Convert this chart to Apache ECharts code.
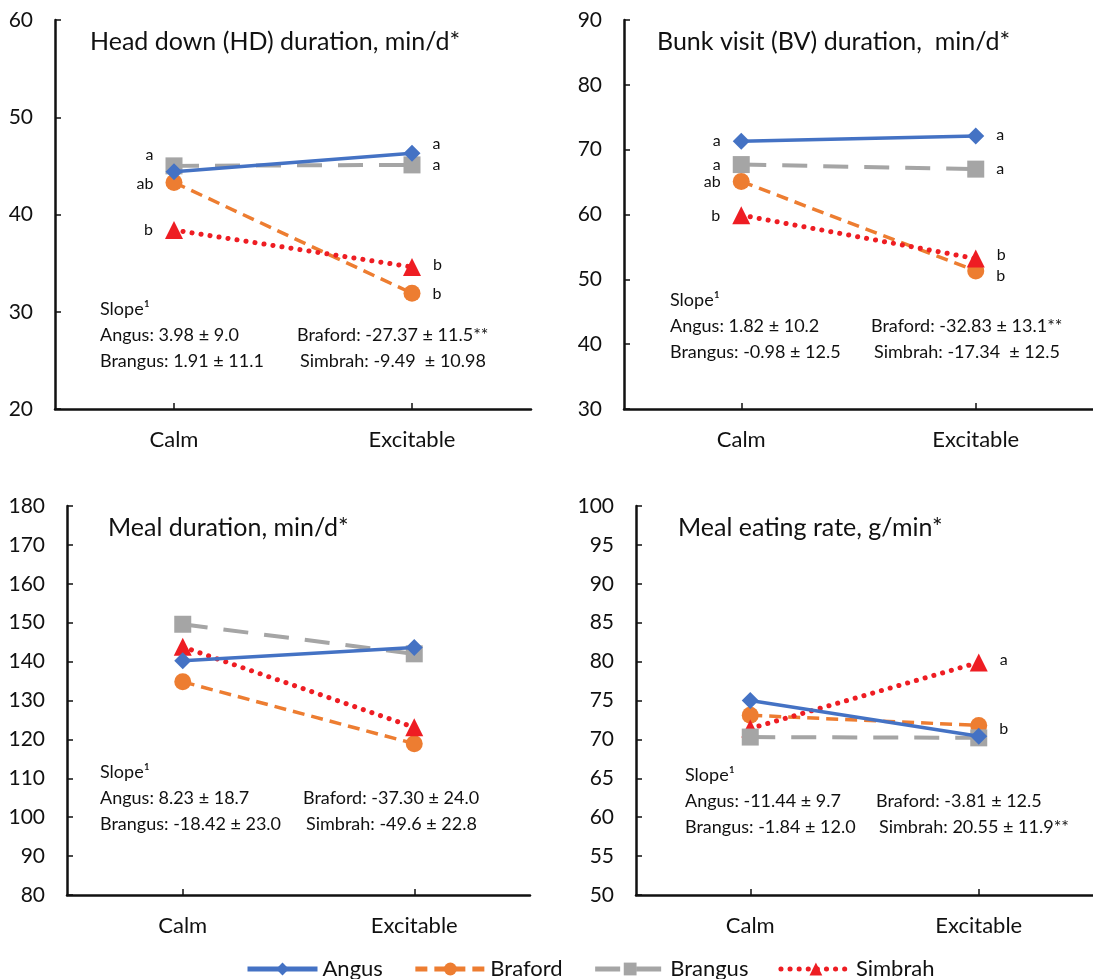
<!DOCTYPE html>
<html>
<head>
<meta charset="utf-8">
<script src="https://cdn.jsdelivr.net/npm/echarts@6/dist/echarts.min.js"></script>
<style>
  html, body { margin: 0; padding: 0; background: #fff; }
  #main { width: 1093px; height: 979px; }
</style>
</head>
<body>
<div id="main"></div>
<script>
// categories and breed names
var categories = ['Calm', 'Excitable'];
var breeds = ['Angus', 'Braford', 'Brangus', 'Simbrah'];

// Head down duration, min/d
var hdAngus = [44.4, 46.3];
var hdBraford = [43.3, 31.9];
var hdBrangus = [45.0, 45.1];
var hdSimbrah = [38.4, 34.6];

// Bunk visit duration, min/d
var bvAngus = [71.3, 72.1];
var bvBraford = [65.1, 51.3];
var bvBrangus = [67.7, 67.0];
var bvSimbrah = [59.9, 53.2];

// Meal duration, min/d
var mdAngus = [140.2, 143.6];
var mdBraford = [134.8, 118.9];
var mdBrangus = [149.6, 142.0];
var mdSimbrah = [143.8, 123.1];

// Meal eating rate, g/min
var erAngus = [75.0, 70.4];
var erBraford = [73.1, 71.8];
var erBrangus = [70.3, 70.2];
var erSimbrah = [71.4, 79.9];

// significance letters (Calm, Excitable)
var hdLetters = { Angus: ['', 'a'], Braford: ['ab', 'b'], Brangus: ['a', 'a'], Simbrah: ['b', 'b'] };
var bvLetters = { Angus: ['a', 'a'], Braford: ['ab', 'b'], Brangus: ['a', 'a'], Simbrah: ['b', 'b'] };
var mdLetters = { Angus: ['', ''], Braford: ['', ''], Brangus: ['', ''], Simbrah: ['', ''] };
var erLetters = { Angus: ['', ''], Braford: ['', 'b'], Brangus: ['', ''], Simbrah: ['', 'a'] };

// slope text lines
var hdSlope = ['Angus: 3.98 ± 9.0', 'Brangus: 1.91 ± 11.1', 'Braford: -27.37 ± 11.5**', 'Simbrah: -9.49  ± 10.98'];
var bvSlope = ['Angus: 1.82 ± 10.2', 'Brangus: -0.98 ± 12.5', 'Braford: -32.83 ± 13.1**', 'Simbrah: -17.34  ± 12.5'];
var mdSlope = ['Angus: 8.23 ± 18.7', 'Brangus: -18.42 ± 23.0', 'Braford: -37.30 ± 24.0', 'Simbrah: -49.6 ± 22.8'];
var erSlope = ['Angus: -11.44 ± 9.7', 'Brangus: -1.84 ± 12.0', 'Braford: -3.81 ± 12.5', 'Simbrah: 20.55 ± 11.9**'];

var titles = ['Head down (HD) duration, min/d*', 'Bunk visit (BV) duration,  min/d*', 'Meal duration, min/d*', 'Meal eating rate, g/min*'];

var FONT = 'Lato, "Open Sans", sans-serif';
var INK = '#111';

var styles = {
    Angus: { color: '#4472C4', symbol: 'diamond', size: 17, line: 'solid', width: 3.5 },
    Braford: { color: '#ED7D31', symbol: 'circle', size: 17, line: [12, 7], width: 3.5 },
    Brangus: { color: '#A5A5A5', symbol: 'rect', size: 17, line: [25, 16], width: 4 },
    Simbrah: { color: '#EE1D23', symbol: 'triangle', size: 18, line: [0.1, 9], width: 5 }
};

// label offsets per panel: [calm, excitable]
var labelOffsets = [
    { Angus: [[0, 0], [0, -9]], Braford: [[0, 1], [0, 1]], Brangus: [[0, -11], [0, 0]], Simbrah: [[0, 0], [0, -2]] },
    { Angus: [[0, 0], [0, -1]], Braford: [[0, 0], [0, 5]], Brangus: [[0, 0], [0, 0]], Simbrah: [[0, 1], [0, -4]] },
    { Angus: [[0, 0], [0, 0]], Braford: [[0, 0], [0, 0]], Brangus: [[0, 0], [0, 0]], Simbrah: [[0, 0], [0, 0]] },
    { Angus: [[0, 0], [0, 0]], Braford: [[0, 0], [0, 3]], Brangus: [[0, 0], [0, 0]], Simbrah: [[0, 0], [0, -3]] }
];

var panelData = [
    { Angus: hdAngus, Braford: hdBraford, Brangus: hdBrangus, Simbrah: hdSimbrah },
    { Angus: bvAngus, Braford: bvBraford, Brangus: bvBrangus, Simbrah: bvSimbrah },
    { Angus: mdAngus, Braford: mdBraford, Brangus: mdBrangus, Simbrah: mdSimbrah },
    { Angus: erAngus, Braford: erBraford, Brangus: erBrangus, Simbrah: erSimbrah }
];
var panelLetters = [hdLetters, bvLetters, mdLetters, erLetters];
var panelSlopes = [hdSlope, bvSlope, mdSlope, erSlope];

var grids = [
    { left: 55, top: 20, width: 476, height: 389 },
    { left: 624, top: 20, width: 476, height: 389 },
    { left: 67, top: 506, width: 463, height: 389 },
    { left: 636, top: 506, width: 463, height: 389 }
];
var yRanges = [
    { min: 20, max: 60, interval: 10 },
    { min: 30, max: 90, interval: 10 },
    { min: 80, max: 180, interval: 10 },
    { min: 50, max: 100, interval: 5 }
];

var xAxes = grids.map(function (g, i) {
    return {
        type: 'category', gridIndex: i, data: categories, boundaryGap: true,
        axisLine: { lineStyle: { color: INK, width: 2.5 } },
        axisTick: { show: true, inside: true, alignWithLabel: true, length: 6, lineStyle: { color: INK, width: 1.5 } },
        axisLabel: { fontSize: 22, color: INK, fontFamily: FONT, margin: 20 },
        splitLine: { show: false }
    };
});

var yAxes = yRanges.map(function (r, i) {
    return {
        type: 'value', gridIndex: i, min: r.min, max: r.max, interval: r.interval,
        axisLine: { show: true, lineStyle: { color: INK, width: 2.5 } },
        axisTick: { show: true, inside: true, length: 6, lineStyle: { color: INK, width: 1.5 } },
        axisLabel: { fontSize: 21, color: INK, fontFamily: FONT, margin: 22 },
        splitLine: { show: false }
    };
});

var series = [];
panelData.forEach(function (pd, p) {
    breeds.forEach(function (b) {
        var st = styles[b];
        var vals = pd[b];
        series.push({
            name: b, type: 'line', xAxisIndex: p, yAxisIndex: p,
            symbol: st.symbol, symbolSize: st.size,
            itemStyle: { color: st.color },
            lineStyle: { color: st.color, width: st.width, type: st.line, cap: b === 'Simbrah' ? 'round' : 'butt' },
            z: b === 'Brangus' ? 3 : (b === 'Angus' ? 4 : 2),
            animation: false,
            data: vals.map(function (v, k) {
                var txt = panelLetters[p][b][k];
                return {
                    value: v,
                    label: {
                        show: txt !== '',
                        formatter: txt,
                        position: k === 0 ? 'left' : 'right',
                        distance: 12,
                        offset: labelOffsets[p][b][k],
                        fontSize: 16, color: INK, fontFamily: FONT
                    }
                };
            })
        });
    });
});

var titlePos = [[90, 42], [657, 42], [108, 528], [678, 528]];
var slopePos = [
    { x1: 100, x2: 297, y: 309 },
    { x1: 670, x2: 871, y: 300 },
    { x1: 100, x2: 303, y: 772 },
    { x1: 685, x2: 876, y: 775 }
];

var graphic = [];
titles.forEach(function (t, i) {
    graphic.push({ type: 'text', x: titlePos[i][0], y: titlePos[i][1],
        style: { text: t, font: '25px ' + FONT, fill: INK, verticalAlign: 'middle' } });
});
panelSlopes.forEach(function (s, i) {
    var sp = slopePos[i];
    var f = '18px ' + FONT;
    graphic.push({ type: 'text', x: sp.x1, y: sp.y, style: { text: 'Slope¹', font: f, fill: INK, verticalAlign: 'middle' } });
    graphic.push({ type: 'text', x: sp.x1, y: sp.y + 26, style: { text: s[0], font: f, fill: INK, verticalAlign: 'middle' } });
    graphic.push({ type: 'text', x: sp.x1, y: sp.y + 52, style: { text: s[1], font: f, fill: INK, verticalAlign: 'middle' } });
    graphic.push({ type: 'text', x: sp.x2, y: sp.y + 26, style: { text: s[2], font: f, fill: INK, verticalAlign: 'middle' } });
    graphic.push({ type: 'text', x: sp.x2 + 3, y: sp.y + 52, style: { text: s[3], font: f, fill: INK, verticalAlign: 'middle' } });
});

var myChart = echarts.init(document.getElementById('main'));
var option = {
    backgroundColor: '#fff',
    animation: false,
    grid: grids,
    xAxis: xAxes,
    yAxis: yAxes,
    legend: {
        data: breeds, left: 240, top: 953,
        itemWidth: 70, itemHeight: 16, itemGap: 30,
        lineStyle: { width: 5 },
        textStyle: { fontSize: 22, color: INK, fontFamily: FONT }
    },
    graphic: graphic,
    series: series
};
myChart.setOption(option);
</script>
</body>
</html>
